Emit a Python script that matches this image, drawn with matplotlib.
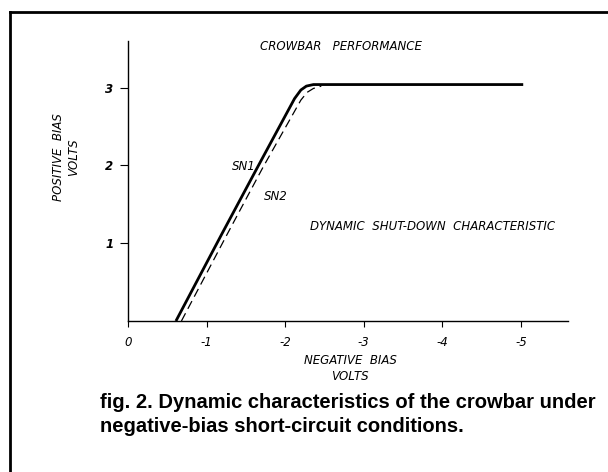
import matplotlib.pyplot as plt
from matplotlib.lines import Line2D

# curve readings (negative bias volts, positive bias volts)
sn1_x = [-0.61, -1.20, -1.65, -2.12, -2.20, -2.27, -2.36, -5.03]
sn1_y = [0.0, 1.13, 1.98, 2.86, 2.97, 3.02, 3.04, 3.04]
sn2_x = [-0.68, -1.27, -1.72, -2.20, -2.28, -2.36, -2.46]
sn2_y = [0.0, 1.13, 1.98, 2.84, 2.94, 2.99, 3.02]

x_ticks = [0, -1, -2, -3, -4, -5]
x_tick_labels = ["0", "-1", "-2", "-3", "-4", "-5"]
y_ticks = [1, 2, 3]
y_tick_labels = ["1", "2", "3"]

plt.rcParams["font.family"] = ["Liberation Sans", "DejaVu Sans"]

fig = plt.figure(figsize=(6.08, 4.72), dpi=100)
ax = fig.add_axes([128 / 608, 1 - 321 / 472, 440 / 608, 280 / 472])

ax.plot(sn1_x, sn1_y, color="black", linewidth=2.0, solid_capstyle="butt")
ax.plot(sn2_x, sn2_y, color="black", linewidth=0.9, linestyle=(0, (7, 4)))

ax.set_xlim(0, -5.6)
ax.set_ylim(0, 3.6)
ax.set_xticks(x_ticks)
ax.set_xticklabels(x_tick_labels, style="italic", fontsize=8.5, family="DejaVu Sans")
ax.set_yticks(y_ticks)
ax.set_yticklabels(y_tick_labels, style="italic", fontsize=8.5, fontweight="bold",
                   family="DejaVu Sans")
ax.tick_params(axis="x", direction="out", length=4.5, width=0.8, pad=6)
ax.tick_params(axis="y", direction="out", length=5.5, width=0.8, pad=5)
for s in ["top", "right"]:
    ax.spines[s].set_visible(False)
for s in ["left", "bottom"]:
    ax.spines[s].set_linewidth(1.0)

txt = dict(style="italic", fontsize=8.5, color="black", family="DejaVu Sans")
ax.text(-2.71, 3.53, "CROWBAR   PERFORMANCE", ha="center", va="center", **txt)
ax.text(-3.87, 1.22, "DYNAMIC  SHUT-DOWN  CHARACTERISTIC", ha="center", va="center", **txt)
ax.text(-1.47, 1.98, "SN1", ha="center", va="center", **txt)
ax.text(-1.73, 1.60, "SN2", ha="left", va="center", **txt)

fig.text(350 / 608, 1 - 369 / 472, "NEGATIVE  BIAS\nVOLTS", ha="center", va="center",
         linespacing=1.3, **txt)
fig.text(66 / 608, 1 - 157 / 472, "POSITIVE  BIAS\nVOLTS", ha="center", va="center",
         rotation=90, linespacing=1.3, **txt)

fig.text(100 / 608, 1 - 403 / 472, "fig. 2. Dynamic characteristics of the crowbar under",
         ha="left", va="center", fontsize=14.5, fontweight="bold")
fig.text(100 / 608, 1 - 426 / 472, "negative-bias short-circuit conditions.",
         ha="left", va="center", fontsize=14.5, fontweight="bold")

# outer frame (left and top edges of the page box)
fig.add_artist(Line2D([10 / 608, 10 / 608], [0, 1 - 12 / 472], color="black", linewidth=2.0,
                      transform=fig.transFigure))
fig.add_artist(Line2D([10 / 608, 1], [1 - 12 / 472, 1 - 12 / 472], color="black", linewidth=2.0,
                      transform=fig.transFigure))

fig.savefig("out.png", dpi=100)
